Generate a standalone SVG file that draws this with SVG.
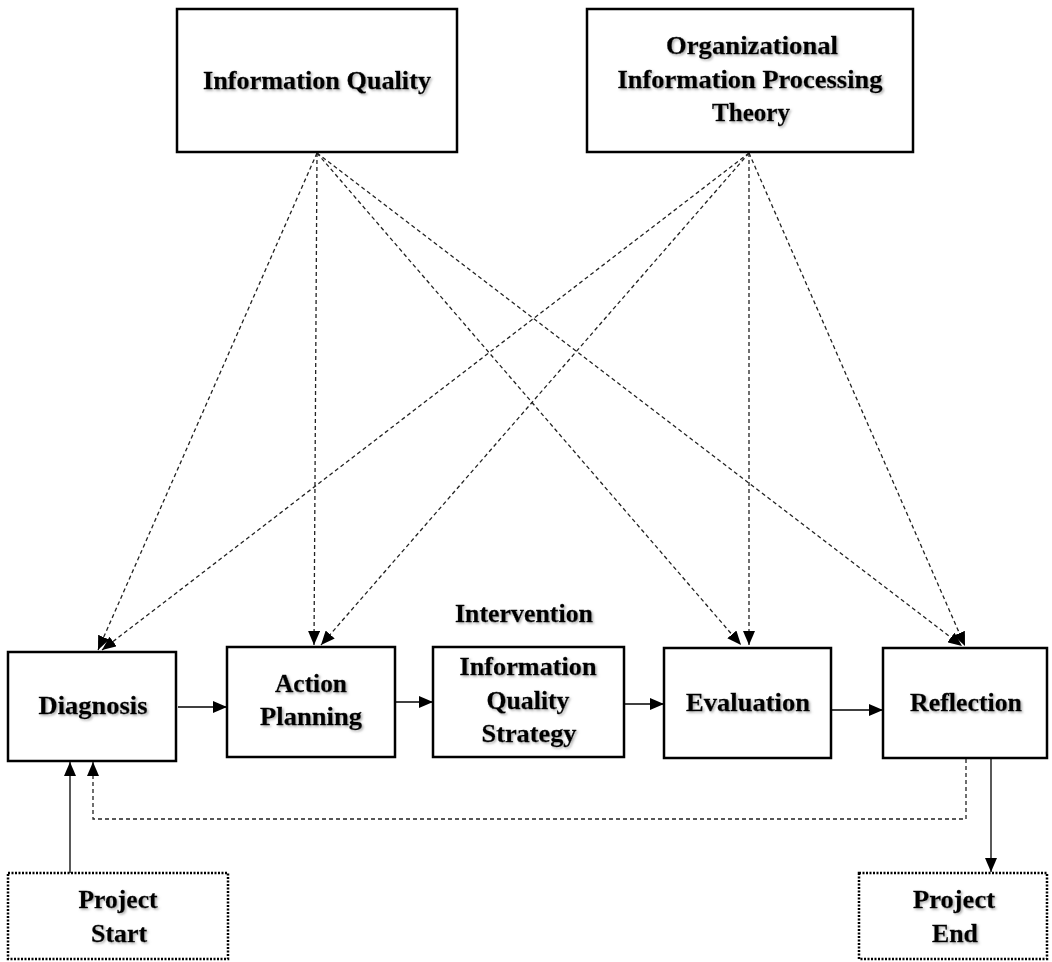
<svg xmlns="http://www.w3.org/2000/svg" width="1052" height="962" viewBox="0 0 1052 962">
<style>
.box{fill:#fff;stroke:#000;stroke-width:2.5}
.dot{fill:#fff;stroke:#000;stroke-width:2.5;stroke-dasharray:2 1.5}
.t{font-family:"Liberation Serif","Times New Roman",serif;font-weight:bold;font-size:26px;fill:#000;stroke:#000;stroke-width:0.3;text-anchor:middle;filter:url(#sh)}
.solid{fill:none;stroke:#000;stroke-width:1.3;marker-end:url(#arr)}
.dash{fill:none;stroke:#222;stroke-width:1.3;stroke-dasharray:4 3;marker-end:url(#arr)}
</style>
<defs>
<marker id="arr" markerUnits="userSpaceOnUse" markerWidth="14" markerHeight="12" refX="14" refY="6" orient="auto">
<path d="M0,0 L14,6 L0,12 z" fill="#000"/>
</marker>
<filter id="sh" x="-10%" y="-30%" width="120%" height="160%">
<feDropShadow dx="1.5" dy="1.5" stdDeviation="1" flood-color="#777" flood-opacity="0.6"/>
</filter>
</defs>
<rect width="1052" height="962" fill="#fff"/>
<g id="connectors">
<line class="dash" x1="317" y1="153" x2="98" y2="650"/>
<line class="dash" x1="317" y1="153" x2="314" y2="645"/>
<line class="dash" x1="317" y1="153" x2="741" y2="645"/>
<line class="dash" x1="317" y1="153" x2="962" y2="646"/>
<line class="dash" x1="749" y1="153" x2="102" y2="650"/>
<line class="dash" x1="749" y1="153" x2="321" y2="645"/>
<line class="dash" x1="749" y1="153" x2="749" y2="645"/>
<line class="dash" x1="749" y1="153" x2="965" y2="646"/>
<line class="solid" x1="178" y1="707" x2="227" y2="707"/>
<line class="solid" x1="395" y1="702" x2="433" y2="702"/>
<line class="solid" x1="625" y1="704" x2="664" y2="704"/>
<line class="solid" x1="831" y1="710" x2="883" y2="710"/>
<line class="solid" x1="70" y1="873" x2="70" y2="762"/>
<line class="solid" x1="991" y1="759" x2="991" y2="872"/>
<path class="dash" d="M966,759 V819 H93 V762"/>
</g>
<g id="info-quality">
<rect class="box" x="177" y="9" width="280" height="143"/>
<text class="t" x="317" y="89" textLength="228" lengthAdjust="spacingAndGlyphs">Information Quality</text>
</g>
<g id="oipt">
<rect class="box" x="587" y="9" width="326" height="143"/>
<text class="t" x="752" y="54" textLength="172" lengthAdjust="spacingAndGlyphs">Organizational</text>
<text class="t" x="750" y="88" textLength="265" lengthAdjust="spacingAndGlyphs">Information Processing</text>
<text class="t" x="751" y="121" textLength="78" lengthAdjust="spacingAndGlyphs">Theory</text>
</g>
<g id="diagnosis">
<rect class="box" x="8" y="652" width="168" height="109"/>
<text class="t" x="93" y="714" textLength="109" lengthAdjust="spacingAndGlyphs">Diagnosis</text>
</g>
<g id="action-planning">
<rect class="box" x="227" y="647" width="168" height="110"/>
<text class="t" x="311" y="692" textLength="72" lengthAdjust="spacingAndGlyphs">Action</text>
<text class="t" x="311" y="725" textLength="102" lengthAdjust="spacingAndGlyphs">Planning</text>
</g>
<g id="intervention-label">
<text class="t" x="524" y="622" textLength="138" lengthAdjust="spacingAndGlyphs">Intervention</text>
</g>
<g id="iq-strategy">
<rect class="box" x="433" y="647" width="191" height="110"/>
<text class="t" x="528" y="675" textLength="137" lengthAdjust="spacingAndGlyphs">Information</text>
<text class="t" x="528" y="709" textLength="83" lengthAdjust="spacingAndGlyphs">Quality</text>
<text class="t" x="529" y="742" textLength="95" lengthAdjust="spacingAndGlyphs">Strategy</text>
</g>
<g id="evaluation">
<rect class="box" x="664" y="648" width="167" height="110"/>
<text class="t" x="748" y="711" textLength="124" lengthAdjust="spacingAndGlyphs">Evaluation</text>
</g>
<g id="reflection">
<rect class="box" x="883" y="648" width="164" height="110"/>
<text class="t" x="966" y="711" textLength="112" lengthAdjust="spacingAndGlyphs">Reflection</text>
</g>
<g id="project-start">
<rect class="dot" x="8" y="873" width="220" height="86"/>
<text class="t" x="118" y="908" textLength="79" lengthAdjust="spacingAndGlyphs">Project</text>
<text class="t" x="119" y="942" textLength="56" lengthAdjust="spacingAndGlyphs">Start</text>
</g>
<g id="project-end">
<rect class="dot" x="859" y="873" width="188" height="86"/>
<text class="t" x="954" y="908" textLength="82" lengthAdjust="spacingAndGlyphs">Project</text>
<text class="t" x="955" y="942" textLength="46" lengthAdjust="spacingAndGlyphs">End</text>
</g>
</svg>
